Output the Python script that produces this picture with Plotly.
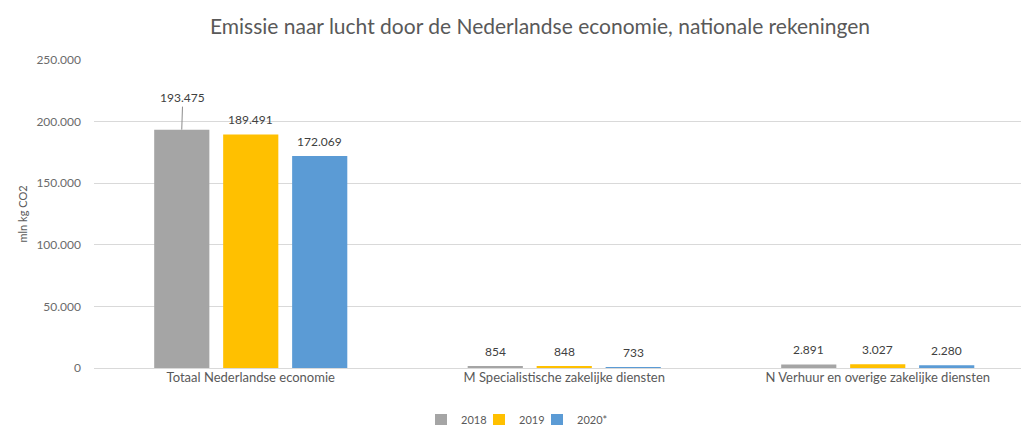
import plotly.graph_objects as go

categories = ["Totaal Nederlandse economie", "M Specialistische zakelijke diensten",
              "N Verhuur en overige zakelijke diensten"]
years = ["2018", "2019", "2020*"]
values_2018 = [193475, 854, 2891]
values_2019 = [189491, 848, 3027]
values_2020 = [172069, 733, 2280]
series = [values_2018, values_2019, values_2020]
colors = ["#A5A5A5", "#FFC000", "#5B9BD5"]
y_ticks = [0, 50000, 100000, 150000, 200000, 250000]

FONT = "Lato"
legend_ids = ["legend", "legend2", "legend3"]
legend_left_px = [421, 479, 537]

fig = go.Figure()
for name, vals, col, lid in zip(years, series, colors, legend_ids):
    fig.add_trace(go.Bar(x=categories, y=vals, name=name, marker_color=col,
                         marker_line_width=0, hoverinfo="skip", legend=lid))

def fmt(v):
    return f"{v:,}".replace(",", ".")

annotations = []
shifts = [-69, 0, 69]
for si, vals in enumerate(series):
    for ci, v in enumerate(vals):
        if si == 0 and ci == 0:
            annotations.append(dict(x=categories[ci], y=v, xref="x", yref="y", text=fmt(v),
                                    showarrow=True, arrowhead=0, arrowwidth=1, arrowcolor="#8c8c8c",
                                    ax=1, ay=-32, xshift=shifts[si],
                                    font=dict(family=FONT, size=12, color="#404040")))
        else:
            annotations.append(dict(x=categories[ci], y=v, xref="x", yref="y", text=fmt(v),
                                    showarrow=False, yanchor="middle", yshift=15, xshift=shifts[si],
                                    font=dict(family=FONT, size=12, color="#404040")))

legend_style = dict(orientation="h", xref="container", xanchor="left",
                    yref="container", y=1 - 420/425, yanchor="middle",
                    font=dict(family=FONT, size=11, color="#595959"),
                    itemwidth=30, bgcolor="rgba(0,0,0,0)")

fig.update_layout(
    width=1021, height=425,
    margin=dict(l=94, r=0, t=60, b=57),
    paper_bgcolor="white", plot_bgcolor="white",
    separators=",.",
    barmode="group", bargap=0.34, bargroupgap=0.2,
    title=dict(text="Emissie naar lucht door de Nederlandse economie, nationale rekeningen",
               x=540/1021, xref="container", xanchor="center",
               y=1 - 27/425, yref="container", yanchor="middle",
               font=dict(family=FONT, size=21, color="#595959")),
    xaxis=dict(range=[-0.5, 2.457], showgrid=False, showline=False, ticks="",
               tickfont=dict(family=FONT, size=13, color="#595959"), automargin=False),
    yaxis=dict(range=[0, 250000], tickvals=y_ticks, tickformat=",d",
               showgrid=True, gridcolor="#D9D9D9", gridwidth=1,
               zeroline=True, zerolinecolor="#D9D9D9", zerolinewidth=1,
               showline=False, ticks="", ticklabelstandoff=12,
               tickfont=dict(family=FONT, size=12, color="#6b6b6b"),
               title=dict(text="mln kg CO2", standoff=6,
                          font=dict(family=FONT, size=11, color="#595959")),
               automargin=False),
    annotations=annotations,
    showlegend=True,
)
for lid, px in zip(legend_ids, legend_left_px):
    fig.update_layout({lid: dict(legend_style, x=px / 1021)})

fig.write_html("out.html")
